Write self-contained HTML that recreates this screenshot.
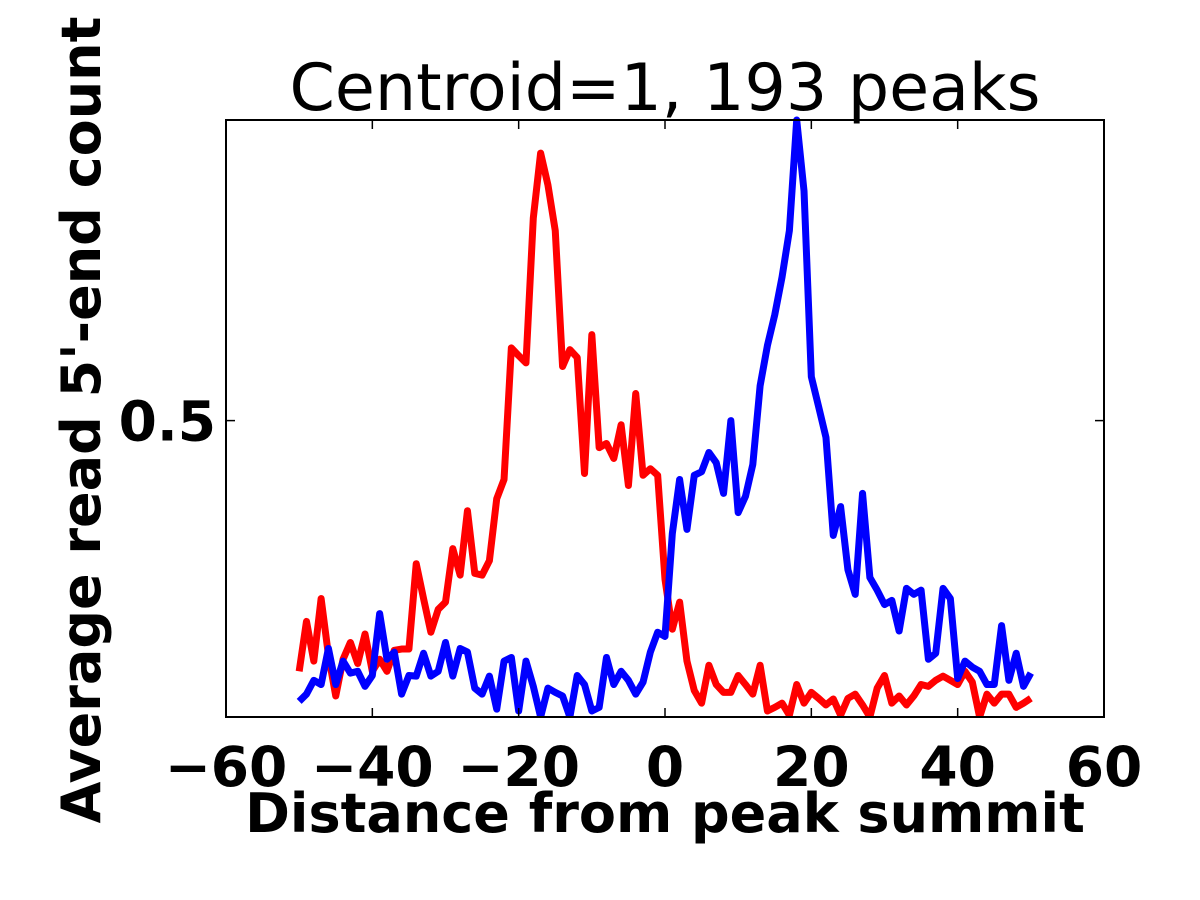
<!DOCTYPE html>
<html><head><meta charset="utf-8"><style>
html,body{margin:0;padding:0;background:#fff;}
svg{display:block;font-family:"DejaVu Sans","Liberation Sans",sans-serif;}
</style></head><body>
<svg id="chart" width="1200" height="900" viewBox="0 0 1200 900" xmlns="http://www.w3.org/2000/svg">
<rect x="0" y="0" width="1200" height="900" fill="#fff"/>
<text x="665" y="110" font-size="65" text-anchor="middle" fill="#000">Centroid=1, 193 peaks</text>
<g id="plot"></g>
<text x="665" y="832" font-size="54" font-weight="bold" text-anchor="middle" fill="#000">Distance from peak summit</text>
<text transform="translate(100,420) rotate(-90)" font-size="54" font-weight="bold" text-anchor="middle" fill="#000">Average read 5'-end count</text>
</svg>
<script>
const positions = [];
for (let i = -50; i <= 50; i++) positions.push(i);
const redValues = [.083,.166,.100,.204,.110,.042,.103,.131,.096,.145,
.083,.103,.083,.118,.120,.120,.262,.204,.148,.186,
.198,.287,.243,.350,.246,.243,.267,.370,.402,.621,
.608,.596,.837,.945,.892,.816,.590,.618,.605,.412,
.643,.455,.462,.437,.493,.392,.545,.409,.420,.409,
.236,.153,.198,.100,.051,.030,.093,.061,.048,.048,
.076,.061,.045,.093,.017,.023,.030,.010,.061,.030,
.048,.038,.027,.037,.010,.038,.045,.027,.007,.055,
.076,.030,.042,.027,.042,.061,.058,.068,.075,.068,
.061,.083,.065,.007,.045,.030,.045,.045,.023,.030,.038];
const blueValues = [.033,.045,.068,.061,.121,.061,.100,.080,.083,.058,
.076,.179,.103,.115,.045,.076,.075,.113,.075,.083,
.131,.075,.121,.115,.055,.045,.075,.020,.100,.106,
.017,.100,.058,.007,.055,.048,.042,.007,.076,.061,
.017,.023,.106,.061,.083,.068,.045,.065,.115,.148,
.141,.312,.402,.319,.409,.415,.447,.430,.379,.500,
.347,.374,.427,.558,.625,.676,.739,.816,1.0,.882,
.573,.523,.472,.309,.357,.252,.211,.379,.239,.218,
.194,.201,.150,.221,.211,.218,.103,.113,.221,.204,
.071,.100,.090,.083,.061,.061,.159,.068,.113,.058,.080];
const xTicks = [-60,-40,-20,0,20,40,60];
const xTickLabels = ["\u221260","\u221240","\u221220","0","20","40","60"];
const yTicks = [0.5];
const yTickLabels = ["0.5"];

const X0=226, X1=1104, Y0=120, Y1=717;
const xMin=-60, xMax=60, yMin=0.007, yMax=1.0;
const sx = v => X0 + (v - xMin) / (xMax - xMin) * (X1 - X0);
const sy = v => Y1 - (v - yMin) / (yMax - yMin) * (Y1 - Y0);
const NS = "http://www.w3.org/2000/svg";
const plot = document.getElementById('plot');
function mk(tag, attrs){ const e=document.createElementNS(NS,tag); for(const k in attrs) e.setAttribute(k, attrs[k]); return e; }

const clip = mk('clipPath',{id:'clipArea'});
clip.appendChild(mk('rect',{x:X0,y:Y0-4,width:X1-X0,height:Y1-Y0+4}));
const defs = mk('defs',{}); defs.appendChild(clip); plot.appendChild(defs);

function drawLine(vals, color, name){
  const d = vals.map((v,i)=>(i?'L':'M')+sx(positions[i]).toFixed(2)+','+sy(v).toFixed(2)).join(' ');
  const p = mk('path',{d:d, fill:'none', stroke:color, 'stroke-width':7, 'stroke-linejoin':'round', 'stroke-linecap':'butt','clip-path':'url(#clipArea)'});
  
  
  plot.appendChild(p);
}
drawLine(redValues, '#ff0000', 'red-series-line');
drawLine(blueValues, '#0000ff', 'blue-series-line');

const frame = mk('rect',{x:X0,y:Y0,width:X1-X0,height:Y1-Y0,fill:'none',stroke:'#000','stroke-width':2});


plot.appendChild(frame);

xTicks.forEach((t,i)=>{
  const x = sx(t);
  const g = mk('g',{});
  
  
  g.appendChild(mk('line',{x1:x,y1:Y1,x2:x,y2:Y1-9,stroke:'#000','stroke-width':1.5}));
  g.appendChild(mk('line',{x1:x,y1:Y0,x2:x,y2:Y0+9,stroke:'#000','stroke-width':1.5}));
  const tx = mk('text',{x:x,y:786,'font-size':55,'font-weight':'bold','text-anchor':'middle',fill:'#000'});
  tx.textContent = xTickLabels[i];
  
  
  g.appendChild(tx);
  plot.appendChild(g);
});
yTicks.forEach((t,i)=>{
  const y = sy(t);
  const g = mk('g',{});
  
  
  g.appendChild(mk('line',{x1:X0,y1:y,x2:X0+9,y2:y,stroke:'#000','stroke-width':1.5}));
  g.appendChild(mk('line',{x1:X1,y1:y,x2:X1-9,y2:y,stroke:'#000','stroke-width':1.5}));
  const tx = mk('text',{x:216,y:y+20,'font-size':55,'font-weight':'bold','text-anchor':'end',fill:'#000'});
  tx.textContent = yTickLabels[i];
  
  
  g.appendChild(tx);
  plot.appendChild(g);
});
</script>
</body></html>
